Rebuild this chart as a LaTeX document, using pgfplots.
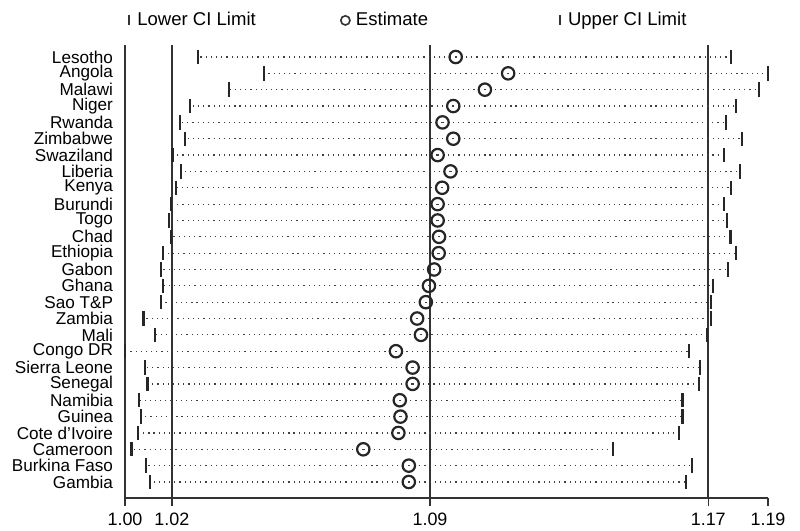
\documentclass[border=0pt]{standalone}
\usepackage{pgfplots}
\pgfplotsset{compat=1.18}
\usepackage{pgfplotstable}
\usepackage{fontspec}
\setmainfont{Liberation Sans}

% sensitivity analysis: estimate with one study omitted
\pgfplotstableread{
row lo     est    up
1   1.0260 1.1001 1.1793
2   1.0449 1.1152 1.1900
3   1.0349 1.1085 1.1874
4   1.0237 1.0994 1.1809
5   1.0207 1.0963 1.1778
6   1.0222 1.0994 1.1824
7   1.0186 1.0949 1.1773
8   1.0210 1.0986 1.1820
9   1.0195 1.0962 1.1793
10  1.0181 1.0949 1.1774
11  1.0176 1.0949 1.1781
12  1.0181 1.0953 1.1792
13  1.0159 1.0952 1.1809
14  1.0153 1.0939 1.1785
15  1.0159 1.0924 1.1742
16  1.0153 1.0915 1.1735
17  1.0102 1.0890 1.1735
18  1.0136 1.0901 1.1725
19  1.0049 1.0829 1.1673
20  1.0107 1.0877 1.1704
21  1.0114 1.0877 1.1701
22  1.0089 1.0840 1.1654
23  1.0094 1.0842 1.1654
24  1.0087 1.0836 1.1644
25  1.0068 1.0735 1.1454
26  1.0109 1.0866 1.1681
27  1.0121 1.0866 1.1665
}\data

\begin{document}
\begin{tikzpicture}
\useasboundingbox (-62.5bp,-16.5bp) rectangle (337.5bp,249bp);
\begin{axis}[
  scale only axis,
  width=321.5bp, height=226.5bp,
  xmin=1.0049, xmax=1.19,
  ymin=0.266, ymax=27.98,
  y dir=reverse,
  axis x line=bottom, axis y line=left,
  axis line style={-, draw=black!80, line width=0.7bp},
  xtick={1.0049,1.0184,1.0927,1.1728,1.19},
  xticklabels={1.00,1.02,1.09,1.17,1.19},
  ytick={1,...,27},
  yticklabels={Lesotho,Angola,Malawi,Niger,Rwanda,Zimbabwe,Swaziland,Liberia,Kenya,Burundi,Togo,Chad,Ethiopia,Gabon,Ghana,Sao T\&P,Zambia,Mali,Congo DR,Sierra Leone,Senegal,Namibia,Guinea,Cote d'Ivoire,Cameroon,Burkina Faso,Gambia},
  tick align=outside,
  major tick length=4bp,
  ytick style={draw=none},
  xtick style={draw=black!80, line width=0.7bp},
  xticklabel style={font=\fontsize{9}{9}\selectfont},
  yticklabel style={font=\fontsize{8.6}{8.6}\selectfont, xshift=1.5bp},
  clip=false,
  legend columns=3,
  legend style={at={(0,1)}, anchor=south west, yshift=6bp, xshift=2bp,
    draw=none, fill=none, inner sep=0pt,
    font=\fontsize{9.3}{9.3}\selectfont,
    /tikz/column 2/.style={column sep=40.5bp},
    /tikz/column 4/.style={column sep=64bp}},
  legend cell align={left},
  legend image code/.code={\draw[#1] plot coordinates {(0bp,0bp)};},
]
\addlegendimage{only marks, mark=|, mark size=2.5bp, mark options={line width=0.9bp, draw=black!80}}
\addlegendentry{\hspace{2bp}Lower CI Limit}
\addlegendimage{only marks, mark=o, mark size=2.3bp, mark options={line width=0.8bp, draw=black!80}}
\addlegendentry{\hspace{1bp}Estimate}
\addlegendimage{only marks, mark=|, mark size=2.5bp, mark options={line width=0.9bp, draw=black!80}}
\addlegendentry{\hspace{2bp}Upper CI Limit}

% reference lines: overall lower CI, estimate, upper CI
\addplot[black!80, line width=0.8bp, forget plot] coordinates {(1.0184,0.266) (1.0184,27.98)};
\addplot[black!80, line width=0.8bp, forget plot] coordinates {(1.0927,0.266) (1.0927,27.98)};
\addplot[black!80, line width=0.8bp, forget plot] coordinates {(1.1728,0.266) (1.1728,27.98)};
\addplot[black!80, line width=0.7bp, forget plot] coordinates {(1.0049,27.98) (1.0049,28.45)};
\addplot[black!80, line width=0.7bp, forget plot] coordinates {(1.0184,27.98) (1.0184,28.45)};
\addplot[black!80, line width=0.7bp, forget plot] coordinates {(1.0927,27.98) (1.0927,28.45)};
\addplot[black!80, line width=0.7bp, forget plot] coordinates {(1.1728,27.98) (1.1728,28.45)};

% CI lines
\addplot[draw=none, mark=none, forget plot,
  error bars/.cd, x dir=both, x explicit, error mark=none,
  error bar style={black!75, line width=0.6bp, dotted}]
  table[x=est, y=row, x error plus expr=\thisrow{up}-\thisrow{est}, x error minus expr=\thisrow{est}-\thisrow{lo}] {\data};

\addplot[only marks, mark=|, mark size=3.6bp, mark options={line width=1.1bp, draw=black!85}, forget plot]
  table[x=lo, y=row] {\data};
\addplot[only marks, mark=|, mark size=3.6bp, mark options={line width=1.1bp, draw=black!85}, forget plot]
  table[x=up, y=row] {\data};
\addplot[only marks, mark=o, mark size=3.1bp, mark options={line width=1.1bp, draw=black!85}, forget plot]
  table[x=est, y=row] {\data};
\end{axis}
\end{tikzpicture}
\end{document}
